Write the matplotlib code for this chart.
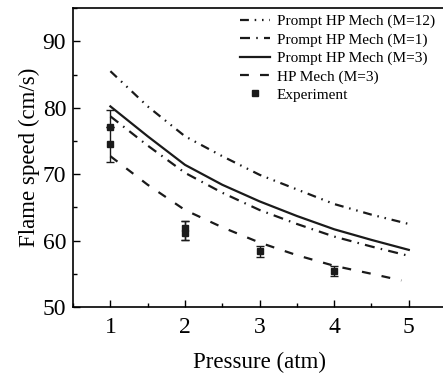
import matplotlib
matplotlib.use("Agg")
import matplotlib.pyplot as plt
from matplotlib.ticker import MultipleLocator
from matplotlib.lines import Line2D

plt.rcParams['font.family'] = ['Liberation Serif', 'DejaVu Serif']

pressure = [1, 1.5, 2, 2.5, 3, 3.5, 4, 4.5, 5]
prompt_m12 = [85.5, 80.2, 75.7, 72.7, 69.9, 67.7, 65.5, 63.9, 62.5]
prompt_m1 = [78.7, 74.3, 70.2, 67.2, 64.6, 62.5, 60.6, 59.1, 57.7]
prompt_m3 = [80.2, 75.7, 71.4, 68.4, 65.9, 63.7, 61.7, 60.1, 58.6]
hp_pressure = [1, 1.5, 2, 2.5, 3, 3.5, 4, 4.5, 4.9]
hp_m3 = [72.7, 68.4, 64.6, 62.0, 59.7, 57.8, 56.2, 55.0, 54.0]

exp_p = [1, 1, 2, 2, 3, 4]
exp_s = [77.1, 74.6, 61.2, 61.9, 58.4, 55.4]
exp_err_low = [0, 2.7, 1.1, 1.8, 0.8, 0.7]
exp_err_high = [0, 5.1, 1.7, 1.0, 0.8, 0.7]

fig = plt.figure(figsize=(4.43, 3.76), dpi=100)
ax = fig.add_axes([0.165, 0.1835, 0.842, 0.795])

col = '#1a1a1a'
lw = 1.6
l1, = ax.plot(pressure, prompt_m12, color=col, lw=lw,
              dashes=(4, 2.6, 0.7, 2.6, 0.7, 2.6))
l2, = ax.plot(pressure, prompt_m1, color=col, lw=lw, dashes=(4.5, 2.8, 0.7, 2.8))
l3, = ax.plot(pressure, prompt_m3, color=col, lw=lw)
l4, = ax.plot(hp_pressure, hp_m3, color=col, lw=lw, dashes=(4, 5))
ax.errorbar(exp_p, exp_s, yerr=[exp_err_low, exp_err_high], fmt='s', color=col,
            ms=4, ecolor=col, elinewidth=1, capsize=3, capthick=1)
l5 = Line2D([], [], ls='none', marker='s', color=col, ms=4)

ax.set_xlim(0.5, 5.5)
ax.set_ylim(50, 95)
ax.xaxis.set_major_locator(MultipleLocator(1))
ax.xaxis.set_minor_locator(MultipleLocator(0.5))
ax.yaxis.set_major_locator(MultipleLocator(10))
ax.yaxis.set_minor_locator(MultipleLocator(5))
ax.tick_params(which='both', direction='in', labelsize=17, width=1)
ax.tick_params(which='major', length=5)
ax.tick_params(which='minor', length=3)
ax.tick_params(axis='x', pad=7)
ax.tick_params(axis='y', pad=5)
for s in ['left', 'bottom', 'top']:
    ax.spines[s].set_linewidth(1.2)
ax.spines['right'].set_visible(False)

ax.set_xlabel('Pressure (atm)', fontsize=16.5, labelpad=10)
ax.set_ylabel('Flame speed (cm/s)', fontsize=16.5, labelpad=2)

labels = ['Prompt HP Mech (M=12)', 'Prompt HP Mech (M=1)', 'Prompt HP Mech (M=3)',
          'HP Mech (M=3)', 'Experiment']
ax.legend([l1, l2, l3, l4, l5], labels, loc='upper right',
          bbox_to_anchor=(0.998, 1.015), frameon=False, fontsize=11,
          handlelength=2.0, handletextpad=0.4, labelspacing=0.3,
          borderaxespad=0.3)

fig.savefig('out.png', dpi=100)
